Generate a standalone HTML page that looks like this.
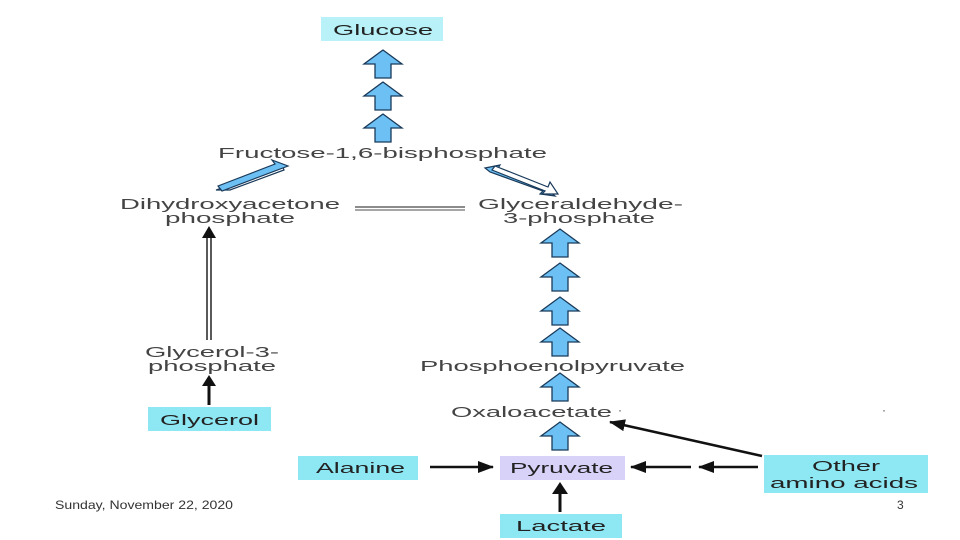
<!DOCTYPE html>
<html><head><meta charset="utf-8"><style>
html,body{margin:0;padding:0;background:#fff}
svg{display:block}
text{font-family:"Liberation Sans",sans-serif}
</style></head><body>
<svg width="960" height="540" viewBox="0 0 960 540" xmlns="http://www.w3.org/2000/svg">
<defs>
<g id="ba"><path d="M-8,14 L-8,0 L-19,0 L0,-14 L19,0 L8,0 L8,14 Z" fill="#6cc0f4" stroke="#1a3a5a" stroke-width="1.3"/></g>
<marker id="ah2" markerWidth="16" markerHeight="12" refX="15" refY="6" orient="auto" markerUnits="userSpaceOnUse"><path d="M0,0 L16,6 L0,12 Z" fill="#111"/></marker>
</defs>
<rect x="321" y="17" width="122" height="24" fill="#b8f2f8"/>
<text x="333" y="35" font-size="15" textLength="100" lengthAdjust="spacingAndGlyphs" fill="#222">Glucose</text>
<use href="#ba" x="383" y="64"/>
<use href="#ba" x="383" y="96"/>
<use href="#ba" x="383" y="128"/>
<g font-size="15" fill="#444" lengthAdjust="spacingAndGlyphs">
<text x="218" y="158" textLength="329" lengthAdjust="spacingAndGlyphs">Fructose-1,6-bisphosphate</text>
<text x="120" y="209" textLength="220" lengthAdjust="spacingAndGlyphs">Dihydroxyacetone</text>
<text x="165" y="223" textLength="130" lengthAdjust="spacingAndGlyphs">phosphate</text>
<text x="478" y="209" textLength="205" lengthAdjust="spacingAndGlyphs">Glyceraldehyde-</text>
<text x="503" y="223" textLength="152" lengthAdjust="spacingAndGlyphs">3-phosphate</text>
<text x="145" y="357" textLength="134" lengthAdjust="spacingAndGlyphs">Glycerol-3-</text>
<text x="148" y="371" textLength="128" lengthAdjust="spacingAndGlyphs">phosphate</text>
<text x="420" y="371" textLength="265" lengthAdjust="spacingAndGlyphs">Phosphoenolpyruvate</text>
<text x="451" y="417" textLength="161" lengthAdjust="spacingAndGlyphs">Oxaloacetate</text>
</g>
<text x="618" y="414" font-size="12" fill="#444">·</text>
<text x="882" y="414" font-size="12" fill="#444">·</text>
<g stroke="#1a3a5a" stroke-width="1.2">
<path d="M216,190 L282,165 L284,170 L230,190 Z" fill="#fff"/>
<path d="M218,186 L275,164 L272,160 L288,166 L222,191 Z" fill="#6cc0f4"/>
<path d="M485,168 L500,165 L497,170 L550,193 L548,190 L555,196 L540,194 L543,191 L490,172 Z" fill="#6cc0f4"/>
<path d="M495,166 L548,187 L550,182 L558,194 L542,194 L545,191 L492,170 Z" fill="#fff"/>
</g>
<line x1="355" y1="207" x2="465" y2="207" stroke="#666" stroke-width="1.5"/>
<line x1="355" y1="210" x2="465" y2="210" stroke="#888" stroke-width="1.5"/>
<line x1="207" y1="340" x2="207" y2="236" stroke="#222" stroke-width="1.5"/>
<line x1="211" y1="340" x2="211" y2="236" stroke="#222" stroke-width="1.5"/>
<path d="M202,238 L209,226 L216,238 Z" fill="#111"/>
<line x1="209" y1="405" x2="209" y2="380" stroke="#111" stroke-width="3"/>
<path d="M202,386 L209,375 L216,386 Z" fill="#111"/>
<rect x="148" y="407" width="123" height="24" fill="#8ee8f4"/>
<text x="160" y="425" font-size="15" textLength="99" lengthAdjust="spacingAndGlyphs" fill="#222">Glycerol</text>
<use href="#ba" x="560" y="243"/>
<use href="#ba" x="560" y="277"/>
<use href="#ba" x="560" y="311"/>
<use href="#ba" x="560" y="342"/>
<use href="#ba" x="560" y="387"/>
<use href="#ba" x="560" y="436"/>
<rect x="298" y="456" width="120" height="24" fill="#8ee8f4"/>
<text x="316" y="473" font-size="15" textLength="89" lengthAdjust="spacingAndGlyphs" fill="#222">Alanine</text>
<rect x="500" y="456" width="125" height="24" fill="#d8d2f8"/>
<text x="510" y="473" font-size="15" textLength="103" lengthAdjust="spacingAndGlyphs" fill="#222">Pyruvate</text>
<rect x="764" y="455" width="164" height="38" fill="#8ee8f4"/>
<text x="812" y="471" font-size="15" textLength="68" lengthAdjust="spacingAndGlyphs" fill="#222">Other</text>
<text x="770" y="488" font-size="15" textLength="148" lengthAdjust="spacingAndGlyphs" fill="#222">amino acids</text>
<rect x="500" y="514" width="122" height="24" fill="#8ee8f4"/>
<text x="516" y="531" font-size="15" textLength="90" lengthAdjust="spacingAndGlyphs" fill="#222">Lactate</text>
<line x1="430" y1="467" x2="493" y2="467" stroke="#111" stroke-width="2.5" marker-end="url(#ah2)"/>
<line x1="691" y1="467" x2="631" y2="467" stroke="#111" stroke-width="2.5" marker-end="url(#ah2)"/>
<line x1="758" y1="467" x2="699" y2="467" stroke="#111" stroke-width="2.5" marker-end="url(#ah2)"/>
<line x1="762" y1="456" x2="610" y2="422" stroke="#111" stroke-width="2.5" marker-end="url(#ah2)"/>
<line x1="560" y1="512" x2="560" y2="485" stroke="#111" stroke-width="3"/>
<path d="M552,494 L560,482 L568,494 Z" fill="#111"/>
<text x="55" y="509" font-size="12" textLength="178" lengthAdjust="spacingAndGlyphs" fill="#333">Sunday, November 22, 2020</text>
<text x="897" y="509" font-size="12" fill="#333">3</text>
</svg>
</body></html>
